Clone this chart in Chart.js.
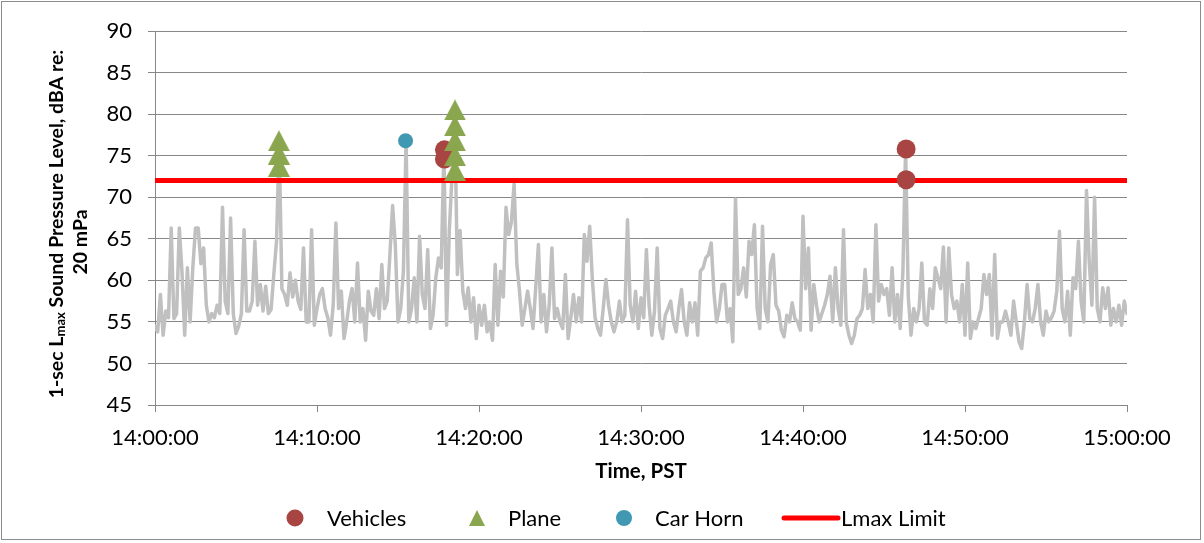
<!DOCTYPE html>
<html>
<head>
<meta charset="utf-8">
<script src="https://cdn.jsdelivr.net/npm/chart.js@4"></script>
<style>
  html, body { margin: 0; padding: 0; background: #fff; }
  #wrap { width: 1204px; height: 543px; }
</style>
</head>
<body>
<div id="wrap"><canvas id="myChart" width="1204" height="543"></canvas></div>
<script>
// 1-sec Lmax, every 10 s (14:00:00 .. 15:00:00), one row per minute
const levels = [
  54.5, 53.8, 58.3, 53.4, 56.3, 55.5,
  66.3, 55.4, 56, 66.3, 61, 53.4,
  61.5, 55, 61.5, 66.3, 66.3, 62,
  63.9, 57, 55, 56, 55.5, 57,
  56, 68.8, 57.5, 56, 67.5, 56,
  53.6, 54.5, 56, 66.1, 56.3, 56.3,
  57.5, 64.7, 57, 59.5, 56.3, 59.3,
  56, 56.5, 60.7, 64.7, 76.5, 59,
  58.3, 57, 60.9, 58, 60, 57.5,
  56.5, 63.9, 55, 55, 66.1, 54.6,
  56.6, 58.3, 59, 56.6, 55.5, 53.4,
  57, 66.9, 56.6, 58.7, 53, 55,
  57.5, 59, 55, 62.1, 55, 56.6,
  52.8, 58.7, 56.3, 55.8, 59, 55.4,
  61.9, 56.6, 57.5, 63.1, 69, 64.3,
  55, 56.6, 61.1, 76.8, 55, 56.6,
  60.3, 55, 65.3, 58.3, 56.6, 63.7,
  54.2, 55.8, 60.3, 62.7, 61.5, 75.6,
  54.6, 66, 72.5, 80.4, 60.7, 66,
  58.7, 56.6, 59.1, 55, 57.9, 53,
  57, 54.6, 57, 53.8, 55, 52.8,
  61.9, 54.6, 61.1, 58, 68.8, 65.5,
  67, 71.6, 62, 58.7, 54.6, 56.6,
  58.7, 56.6, 54.2, 59.1, 64.3, 55,
  58.3, 53.8, 57, 63.9, 55.4, 56.6,
  55, 54.2, 60.7, 53, 55.5, 58.3,
  55, 57.9, 55, 65.5, 62.3, 66.5,
  60, 55.5, 54.2, 53.4, 56.6, 60.1,
  57, 55, 53.8, 55, 57.5, 55,
  55.8, 67.3, 57, 55, 58.7, 54.2,
  57.9, 55.5, 63.7, 57, 53.4, 56.3,
  63.9, 54.2, 53, 55.8, 56.6, 57.5,
  55, 53.8, 56.6, 58.9, 55, 53.4,
  57.3, 55, 57.3, 53.4, 61.1, 61.5,
  62.7, 63.1, 64.5, 58.6, 55, 56.6,
  59.5, 59.5, 55, 56.6, 52.6, 69.8,
  58.3, 59, 61.5, 58, 64.7, 63.1,
  66.7, 56.6, 54.2, 66.5, 56.6, 55,
  61.9, 63.1, 57, 56.3, 54, 53.2,
  55.8, 55, 57.3, 55.4, 55, 54,
  67.7, 59, 63.9, 54, 59.5, 57,
  55, 56, 57, 58.3, 60.5, 55,
  61.5, 56.6, 54.6, 66.1, 55, 53.4,
  52.4, 53.4, 55.4, 55.8, 56.6, 61.3,
  56.6, 58.3, 55, 66.7, 57.5, 59.5,
  58.3, 59, 55.8, 61.5, 55, 58.3,
  54.2, 61.1, 75.8, 58, 53.4, 56.6,
  55, 56.6, 62.1, 55, 54.6, 59,
  56.6, 61.5, 60.3, 59, 64, 55,
  63.9, 58.3, 56.6, 57.5, 55, 59.5,
  53.4, 62.1, 53, 55, 54.2, 55.4,
  56.6, 60.7, 58.3, 60.7, 53.4, 63.1,
  53, 55, 55, 56.3, 55, 53.4,
  57.5, 55, 52.6, 51.8, 55, 59.5,
  55.4, 55, 56.6, 59.5, 55, 53.4,
  56.3, 55, 55.5, 56.3, 58.7, 65.9,
  56.6, 55, 58.7, 53.4, 60.3, 59,
  64.7, 57.5, 55, 70.8, 62.3, 57,
  70, 56.6, 55, 59.1, 56.6, 59.1,
  54.6, 56.6, 55, 57, 54.6, 57.5,
  56
];
const sampleStep = 10; // seconds between samples

// events (seconds after 14:00:00, dBA)
const vehicleTimes = [1072, 1072, 2782, 2782];
const vehicleLevels = [75.7, 74.6, 75.8, 72.1];
const planeTimes = [459, 459, 459, 1111, 1111, 1111, 1111, 1111];
const planeLevels = [76.8, 75.2, 73.7, 80.5, 78.6, 76.8, 75.0, 73.2];
const hornTimes = [928];
const hornLevels = [76.8];
const limitLevel = 72;

const timeTicks = ['14:00:00', '14:10:00', '14:20:00', '14:30:00', '14:40:00', '14:50:00', '15:00:00'];
const legendNames = ['Vehicles', 'Plane', 'Car Horn', 'Lmax Limit'];

const colVehicle = '#A84442';
const colPlane = '#8AA64E';
const colHorn = '#4198B2';
const colLimit = '#FF0000';
const colTrace = '#C0C0C0';
const colGrid = '#878787';
const fontFam = 'Lato, "Open Sans", sans-serif';

function pairs(xs, ys) {
    return xs.map((x, i) => ({ x: x, y: ys[i] }));
}

// triangle marker like excel's (fits a square box)
function makeTriangle(w, h, color) {
    const c = document.createElement('canvas');
    c.width = w; c.height = h;
    const g = c.getContext('2d');
    g.fillStyle = color;
    g.beginPath();
    g.moveTo(w / 2, 0);
    g.lineTo(w, h);
    g.lineTo(0, h);
    g.closePath();
    g.fill();
    return c;
}
const triImg = makeTriangle(22, 21, colPlane);
const triLegend = makeTriangle(16, 16, colPlane);

const tracePoints = levels.map((v, i) => ({ x: i * sampleStep, y: v }));

// titles + legend drawn by hand (subscript in axis title)
const decorPlugin = {
    id: 'decor',
    afterDraw(chart) {
        const ctx = chart.ctx;
        ctx.save();
        ctx.fillStyle = '#000';
        ctx.textBaseline = 'middle';

        // y title, line 1 with subscript
        const big = 'bold 19.5px ' + fontFam;
        const small = 'bold 13px ' + fontFam;
        const parts = [['1-sec L', big, 0], ['max', small, 4], [' Sound Pressure Level, dBA re:', big, 0]];
        let total = 0;
        parts.forEach(p => { ctx.font = p[1]; total += ctx.measureText(p[0]).width; });
        ctx.save();
        ctx.translate(57, 224);
        ctx.rotate(-Math.PI / 2);
        let px = -total / 2;
        ctx.textAlign = 'left';
        parts.forEach(p => {
            ctx.font = p[1];
            ctx.fillText(p[0], px, p[2]);
            px += ctx.measureText(p[0]).width;
        });
        ctx.restore();

        ctx.save();
        ctx.translate(81, 242);
        ctx.rotate(-Math.PI / 2);
        ctx.font = big;
        ctx.textAlign = 'center';
        ctx.fillText('20 mPa', 0, 0);
        ctx.restore();

        // x title
        ctx.font = 'bold 20.5px ' + fontFam;
        ctx.textAlign = 'center';
        ctx.fillText('Time, PST', 641, 471);

        // legend
        const ly = 518;
        ctx.font = '22px ' + fontFam;
        ctx.textAlign = 'left';
        ctx.fillStyle = colVehicle;
        ctx.beginPath(); ctx.arc(295, ly, 8.5, 0, Math.PI * 2); ctx.fill();
        ctx.drawImage(triLegend, 477 - 8, ly - 8);
        ctx.fillStyle = colHorn;
        ctx.beginPath(); ctx.arc(624, ly, 8, 0, Math.PI * 2); ctx.fill();
        ctx.strokeStyle = colLimit;
        ctx.lineWidth = 5;
        ctx.lineCap = 'round';
        ctx.beginPath(); ctx.moveTo(784, ly); ctx.lineTo(838, ly); ctx.stroke();
        ctx.fillStyle = '#000';
        ctx.fillText(legendNames[0], 327, ly + 1);
        ctx.fillText(legendNames[1], 508, ly + 1);
        ctx.fillText(legendNames[2], 655, ly + 1);
        ctx.fillText(legendNames[3], 841, ly + 1);

        // chart border
        ctx.strokeStyle = '#8c8c8c';
        ctx.lineWidth = 1;
        ctx.strokeRect(1.5, 1.5, 1199, 538);
        ctx.restore();
    }
};

const ctx = document.getElementById('myChart').getContext('2d');
new Chart(ctx, {
    type: 'line',
    data: {
        datasets: [
            {
                label: legendNames[1],
                data: pairs(planeTimes, planeLevels),
                showLine: false,
                pointStyle: triImg,
                pointRadius: 11,
                order: 1
            },
            {
                label: legendNames[0],
                data: pairs(vehicleTimes, vehicleLevels),
                showLine: false,
                pointStyle: 'circle',
                pointRadius: 9.5,
                pointBackgroundColor: colVehicle,
                pointBorderColor: colVehicle,
                pointBorderWidth: 0,
                order: 2
            },
            {
                label: legendNames[2],
                data: pairs(hornTimes, hornLevels),
                showLine: false,
                pointStyle: 'circle',
                pointRadius: 7.5,
                pointBackgroundColor: colHorn,
                pointBorderColor: colHorn,
                pointBorderWidth: 0,
                order: 3
            },
            {
                label: legendNames[3],
                data: [{ x: 0, y: limitLevel }, { x: 3600, y: limitLevel }],
                borderColor: colLimit,
                borderWidth: 5,
                pointRadius: 0,
                order: 4
            },
            {
                label: 'Lmax',
                data: tracePoints,
                borderColor: colTrace,
                borderWidth: 3.5,
                borderJoinStyle: 'round',
                borderCapStyle: 'round',
                pointRadius: 0,
                tension: 0,
                order: 5
            }
        ]
    },
    options: {
        responsive: false,
        animation: false,
        events: [],
        layout: { padding: { top: 31, right: 77, left: 0, bottom: 0 } },
        plugins: {
            legend: { display: false },
            tooltip: { enabled: false }
        },
        scales: {
            x: {
                type: 'linear',
                min: 0,
                max: 3600,
                afterFit: (s) => { s.height = 138; },
                ticks: {
                    stepSize: 600,
                    autoSkip: false,
                    maxRotation: 0,
                    padding: 13,
                    color: '#000',
                    font: { family: fontFam, size: 22 },
                    callback: (v) => timeTicks[Math.round(v / 600)]
                },
                grid: { drawOnChartArea: false, drawTicks: true, tickLength: 7, color: colGrid },
                border: { display: true, color: colGrid, width: 1 }
            },
            y: {
                min: 45,
                max: 90,
                afterFit: (s) => { s.width = 155; },
                ticks: {
                    stepSize: 5,
                    padding: 16,
                    color: '#000',
                    font: { family: fontFam, size: 22 }
                },
                grid: { color: colGrid, tickLength: 7 },
                border: { display: true, color: colGrid, width: 1 }
            }
        }
    },
    plugins: [decorPlugin]
});
</script>
</body>
</html>
